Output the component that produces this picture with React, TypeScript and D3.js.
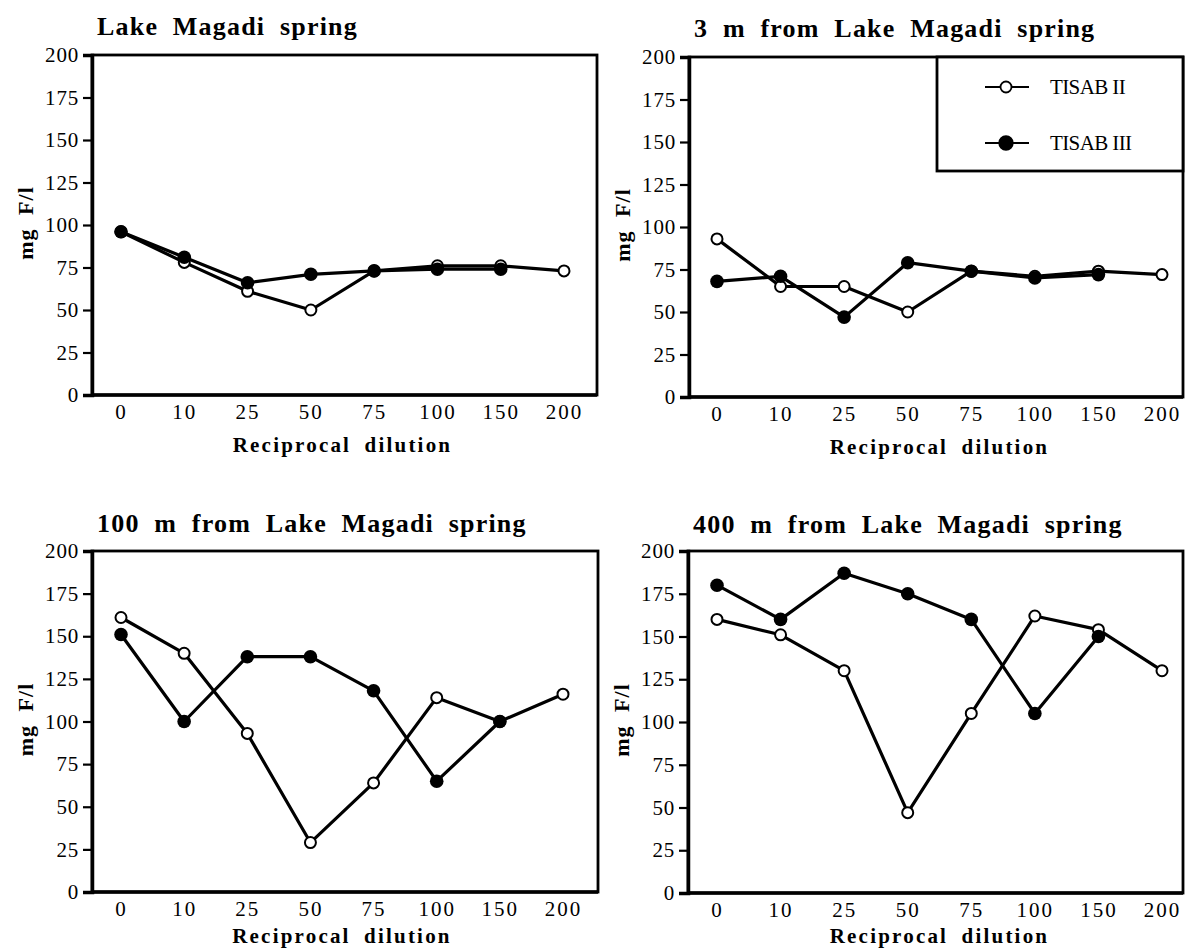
import React, { useEffect, useRef } from "react";
import * as d3 from "d3";

// reciprocal dilution categories (x axis)
const dilutions = ["0", "10", "25", "50", "75", "100", "150", "200"];
const yTicks = [0, 25, 50, 75, 100, 125, 150, 175, 200];
const seriesNames = ["TISAB II", "TISAB III"];
const titles = [
  "Lake Magadi spring",
  "3 m from Lake Magadi spring",
  "100 m from Lake Magadi spring",
  "400 m from Lake Magadi spring",
];

// mg F/l (TISAB III has no 1:200 point)
const springTisab2 = [96, 78, 61, 50, 73, 76, 76, 73];
const springTisab3 = [96, 81, 66, 71, 73, 74, 74];
const m3Tisab2 = [93, 65, 65, 50, 74, 71, 74, 72];
const m3Tisab3 = [68, 71, 47, 79, 74, 70, 72];
const m100Tisab2 = [161, 140, 93, 29, 64, 114, 100, 116];
const m100Tisab3 = [151, 100, 138, 138, 118, 65, 100];
const m400Tisab2 = [160, 151, 130, 47, 105, 162, 154, 130];
const m400Tisab3 = [180, 160, 187, 175, 160, 105, 150];

const panelSeries = [
  [springTisab2, springTisab3],
  [m3Tisab2, m3Tisab3],
  [m100Tisab2, m100Tisab3],
  [m400Tisab2, m400Tisab3],
];

// plot boxes on the page
const boxes = [
  { left: 92, right: 597, top: 55, bottom: 395, x0: 121, x1: 564, titleY: 35, labY: 452 },
  { left: 689, right: 1183, top: 57, bottom: 397, x0: 717, x1: 1162, titleY: 37, labY: 454 },
  { left: 92, right: 598, top: 551, bottom: 892, x0: 121, x1: 563, titleY: 532, labY: 943 },
  { left: 688, right: 1183, top: 551, bottom: 893, x0: 717, x1: 1162, titleY: 533, labY: 943 },
];

const serif = "'Liberation Serif', 'Times New Roman', serif";

export default function App() {
  const ref = useRef<SVGSVGElement>(null);

  useEffect(() => {
    const svg = d3.select(ref.current);
    svg.selectAll("*").remove();

    boxes.forEach((box, i) => {
      const g = svg.append("g");
      const x = d3.scalePoint<string>().domain(dilutions).range([box.x0, box.x1]);
      const y = d3.scaleLinear().domain([0, 200]).range([box.bottom, box.top]);

      g.append("text")
        .attr("x", box.left + 5)
        .attr("y", box.titleY)
        .attr("font-family", serif)
        .attr("font-weight", "bold")
        .attr("font-size", 26)
        .attr("letter-spacing", 1.2)
        .attr("word-spacing", 7)
        .text(titles[i]);

      g.append("rect")
        .attr("x", box.left)
        .attr("y", box.top)
        .attr("width", box.right - box.left)
        .attr("height", box.bottom - box.top)
        .attr("fill", "none")
        .attr("stroke", "#000")
        .attr("stroke-width", 2.8);

      const yAxis = g.append("g")
        .attr("transform", `translate(${box.left},0)`)
        .call(d3.axisLeft(y).tickValues(yTicks).tickSize(9).tickPadding(4));
      yAxis.select(".domain").attr("stroke-width", 3.5);
      yAxis.selectAll(".tick line").attr("stroke-width", 2.2);
      yAxis.attr("font-family", serif).attr("font-size", 21);
      yAxis.selectAll(".tick text").attr("letter-spacing", 0.8);

      const xAxis = g.append("g")
        .attr("transform", `translate(0,${box.bottom})`)
        .call(d3.axisBottom(x).tickSize(0).tickPadding(9));
      xAxis.select(".domain").remove();
      g.append("line")
        .attr("x1", box.left).attr("x2", box.right)
        .attr("y1", box.bottom).attr("y2", box.bottom)
        .attr("stroke", "#000").attr("stroke-width", 3.5);
      xAxis.attr("font-family", serif).attr("font-size", 21);
      xAxis.selectAll(".tick text").attr("letter-spacing", 2).attr("dy", "0.71em");

      g.append("text")
        .attr("x", (box.x0 + box.x1) / 2)
        .attr("y", box.labY)
        .attr("text-anchor", "middle")
        .attr("font-family", serif)
        .attr("font-weight", "bold")
        .attr("font-size", 21)
        .attr("letter-spacing", 2.2)
        .attr("word-spacing", 6)
        .text("Reciprocal dilution");

      g.append("text")
        .attr("transform", `translate(${box.left - 59},${(box.top + box.bottom) / 2 - 2}) rotate(-90)`)
        .attr("text-anchor", "middle")
        .attr("font-family", serif)
        .attr("font-weight", "bold")
        .attr("font-size", 22)
        .attr("letter-spacing", 1)
        .attr("word-spacing", 7)
        .text("mg F/l");

      const line = d3.line<number>()
        .x((_, j) => x(dilutions[j])!)
        .y(d => y(d));

      const [open, filled] = panelSeries[i];
      [open, filled].forEach(s => {
        g.append("path")
          .attr("d", line(s))
          .attr("fill", "none")
          .attr("stroke", "#000")
          .attr("stroke-width", 3.2)
          .attr("stroke-linejoin", "round");
      });

      g.selectAll("circle.open")
        .data(open)
        .enter()
        .append("circle")
        .attr("cx", (_, j) => x(dilutions[j])!)
        .attr("cy", d => y(d))
        .attr("r", 5.5)
        .attr("fill", "#fff")
        .attr("stroke", "#000")
        .attr("stroke-width", 2);

      g.selectAll("circle.filled")
        .data(filled)
        .enter()
        .append("circle")
        .attr("cx", (_, j) => x(dilutions[j])!)
        .attr("cy", d => y(d))
        .attr("r", 6.8)
        .attr("fill", "#000");
    });

    // legend in the 3 m panel
    const lg = svg.append("g");
    lg.append("rect")
      .attr("x", 937).attr("y", 57)
      .attr("width", 246).attr("height", 114)
      .attr("fill", "#fff")
      .attr("stroke", "#000")
      .attr("stroke-width", 2.8);
    seriesNames.forEach((name, k) => {
      const ly = 87 + k * 56;
      lg.append("line")
        .attr("x1", 985).attr("x2", 1029)
        .attr("y1", ly).attr("y2", ly)
        .attr("stroke", "#000").attr("stroke-width", 2.2);
      lg.append("circle")
        .attr("cx", 1006).attr("cy", ly)
        .attr("r", k === 0 ? 5.5 : 6.8)
        .attr("fill", k === 0 ? "#fff" : "#000")
        .attr("stroke", "#000")
        .attr("stroke-width", 1.8);
      lg.append("text")
        .attr("x", 1050).attr("y", ly + 7)
        .attr("font-family", serif)
        .attr("font-size", 21)
        .attr("letter-spacing", -0.6)
        .text(name);
    });
  }, []);

  return (
    <svg
      ref={ref}
      width={1185}
      height={950}
      style={{ position: "absolute", left: 0, top: 0, background: "#fff" }}
    />
  );
}
